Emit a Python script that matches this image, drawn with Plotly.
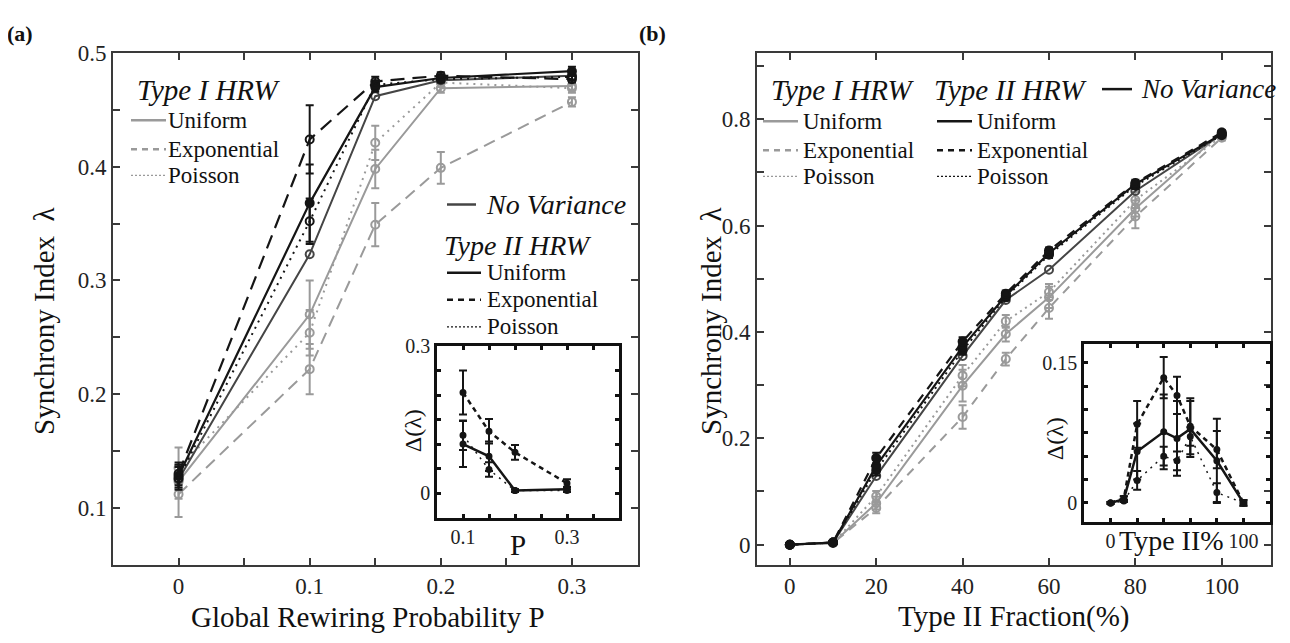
import plotly.graph_objects as go

W, H = 1290, 643
OFF = 8  # page body margin of the rendered html
SERIF = "Liberation Serif"

# ---------------- data: panel (a) ----------------
P = [0, 0.1, 0.15, 0.2, 0.3]
a_t1_uni = [0.123, 0.270, 0.398, 0.469, 0.471]
a_t1_uni_err = [0.015, 0.030, 0.017, 0.004, 0.004]
a_t1_exp = [0.112, 0.222, 0.349, 0.399, 0.457]
a_t1_exp_err = [0.020, 0.022, 0.019, 0.014, 0.004]
a_t1_poi = [0.135, 0.254, 0.421, 0.474, 0.469]
a_t1_poi_err = [0.018, 0.020, 0.015, 0.004, 0.004]
a_t2_uni = [0.128, 0.368, 0.470, 0.478, 0.484]
a_t2_uni_err = [0.010, 0.034, 0.004, 0.003, 0.004]
a_t2_exp = [0.130, 0.424, 0.475, 0.480, 0.477]
a_t2_exp_err = [0.010, 0.030, 0.004, 0.003, 0.003]
a_t2_poi = [0.126, 0.352, 0.472, 0.477, 0.479]
a_t2_poi_err = [0.010, 0.020, 0.004, 0.003, 0.003]
a_nv = [0.125, 0.323, 0.462, 0.476, 0.480]

# inset (a): difference Delta(lambda)
Pi = [0.1, 0.15, 0.2, 0.3]
ai_uni = [0.100, 0.075, 0.005, 0.008]
ai_uni_err = [0.047, 0.030, 0.003, 0.005]
ai_exp = [0.205, 0.126, 0.083, 0.020]
ai_exp_err = [0.045, 0.025, 0.015, 0.008]
ai_poi = [0.118, 0.048, 0.005, 0.005]
ai_poi_err = [0.030, 0.015, 0.003, 0.003]

# ---------------- data: panel (b) ----------------
F = [0, 10, 20, 40, 50, 60, 80, 100]
b_t1_uni = [0, 0.003, 0.078, 0.299, 0.396, 0.465, 0.632, 0.775]
b_t1_uni_err = [0.002, 0.003, 0.012, 0.030, 0.014, 0.020, 0.015, 0.005]
b_t1_exp = [0, 0.003, 0.069, 0.240, 0.349, 0.445, 0.617, 0.765]
b_t1_exp_err = [0.002, 0.003, 0.010, 0.022, 0.012, 0.020, 0.022, 0.005]
b_t1_poi = [0, 0.003, 0.091, 0.318, 0.420, 0.475, 0.648, 0.768]
b_t1_poi_err = [0.002, 0.003, 0.010, 0.020, 0.012, 0.015, 0.015, 0.005]
b_t2_uni = [0, 0.004, 0.148, 0.372, 0.468, 0.548, 0.678, 0.772]
b_t2_uni_err = [0.002, 0.003, 0.012, 0.010, 0.006, 0.008, 0.006, 0.004]
b_t2_exp = [0, 0.004, 0.163, 0.382, 0.472, 0.553, 0.680, 0.775]
b_t2_exp_err = [0.002, 0.003, 0.010, 0.008, 0.006, 0.006, 0.006, 0.004]
b_t2_poi = [0, 0.004, 0.140, 0.365, 0.465, 0.545, 0.675, 0.770]
b_t2_poi_err = [0.002, 0.003, 0.010, 0.008, 0.006, 0.006, 0.006, 0.004]
b_nv = [0, 0.004, 0.129, 0.355, 0.460, 0.517, 0.665, 0.772]

# inset (b)
bi_uni = [0, 0.004, 0.055, 0.076, 0.069, 0.079, 0.045, 0]
bi_uni_err = [0.001, 0.003, 0.030, 0.040, 0.040, 0.030, 0.045, 0.003]
bi_exp = [0, 0.005, 0.084, 0.134, 0.115, 0.082, 0.057, 0]
bi_exp_err = [0.001, 0.002, 0.025, 0.022, 0.020, 0.030, 0.020, 0.003]
bi_poi = [0, 0.002, 0.024, 0.050, 0.045, 0.071, 0.011, 0]
bi_poi_err = [0.001, 0.001, 0.010, 0.010, 0.010, 0.010, 0.010, 0.001]

# tick definitions
a_xticks = [0, 0.05, 0.1, 0.15, 0.2, 0.25, 0.3]
a_xlabels = ["0", "", "0.1", "", "0.2", "", "0.3"]
a_yticks = [0.1, 0.15, 0.2, 0.25, 0.3, 0.35, 0.4, 0.45, 0.5]
a_ylabels = ["0.1", "", "0.2", "", "0.3", "", "0.4", "", "0.5"]
b_xticks = [0, 20, 40, 60, 80, 100]
b_xlabels = ["0", "20", "40", "60", "80", "100"]
b_yticks = [0, 0.1, 0.2, 0.3, 0.4, 0.5, 0.6, 0.7, 0.8, 0.9]
b_ylabels = ["0", "", "0.2", "", "0.4", "", "0.6", "", "0.8", ""]
ai_xticks = [0.1, 0.15, 0.2, 0.25, 0.3, 0.35]
ai_xlabels = ["0.1", "", "", "", "0.3", ""]
ai_yticks = [0, 0.05, 0.1, 0.15, 0.2, 0.25, 0.3]
ai_ylabels = ["0", "", "", "", "", "", "0.3"]
bi_xticks = [0, 20, 40, 60, 80, 100]
bi_xlabels = ["0", "", "", "", "", "100"]
bi_yticks = [0, 0.025, 0.05, 0.075, 0.1, 0.125, 0.15]
bi_ylabels = ["0", "", "", "", "", "", "0.15"]

GRAY = "#9a9a9a"
BLACK = "#151515"
DGRAY = "#454545"
AX = "#3a3a3a"

fig = go.Figure()


def series(x, y, err, color, dash, width, xa, ya, marker=True, msize=8, symbol="circle-open"):
    kw = dict(x=x, y=y, mode="lines+markers" if marker else "lines",
              line=dict(color=color, dash=dash, width=width),
              xaxis=xa, yaxis=ya, showlegend=False, hoverinfo="skip")
    if marker:
        kw["marker"] = dict(symbol=symbol, size=msize, color=color, line=dict(color=color, width=2))
    if err is not None:
        kw["error_y"] = dict(type="data", array=err, visible=True, color=color, thickness=2, width=4)
    fig.add_trace(go.Scatter(**kw))


# panel (a) main
series(P, a_t1_exp, a_t1_exp_err, GRAY, "12px,7px", 2, "x", "y")
series(P, a_t1_poi, a_t1_poi_err, GRAY, "2px,5px", 2, "x", "y")
series(P, a_t1_uni, a_t1_uni_err, GRAY, "solid", 2, "x", "y")
series(P, a_nv, None, DGRAY, "solid", 2, "x", "y")
series(P, a_t2_poi, a_t2_poi_err, BLACK, "2px,5px", 2, "x", "y")
series(P, a_t2_uni, a_t2_uni_err, BLACK, "solid", 2.2, "x", "y", symbol="circle")
series(P, a_t2_exp, a_t2_exp_err, BLACK, "14px,8px", 2.2, "x", "y")

# panel (a) inset
series(Pi, ai_poi, ai_poi_err, BLACK, "2px,5px", 1.5, "x3", "y3", msize=5, symbol="circle")
series(Pi, ai_exp, ai_exp_err, BLACK, "5px,4px", 2.5, "x3", "y3", msize=5, symbol="circle")
series(Pi, ai_uni, ai_uni_err, BLACK, "solid", 2.5, "x3", "y3", msize=5, symbol="circle")

# panel (b) main
series(F, b_t1_exp, b_t1_exp_err, GRAY, "9px,7px", 2, "x2", "y2")
series(F, b_t1_poi, b_t1_poi_err, GRAY, "2px,4px", 2, "x2", "y2")
series(F, b_t1_uni, b_t1_uni_err, GRAY, "solid", 2, "x2", "y2")
series(F, b_nv, None, DGRAY, "solid", 2, "x2", "y2")
series(F, b_t2_poi, b_t2_poi_err, BLACK, "2px,4px", 2, "x2", "y2", symbol="circle")
series(F, b_t2_uni, b_t2_uni_err, BLACK, "solid", 2.2, "x2", "y2", symbol="circle")
series(F, b_t2_exp, b_t2_exp_err, BLACK, "9px,7px", 2.2, "x2", "y2", symbol="circle")

# panel (b) inset
series(F, bi_poi, bi_poi_err, BLACK, "2px,5px", 1.5, "x4", "y4", msize=5, symbol="circle")
series(F, bi_exp, bi_exp_err, BLACK, "5px,4px", 2.5, "x4", "y4", msize=5, symbol="circle")
series(F, bi_uni, bi_uni_err, BLACK, "solid", 2.5, "x4", "y4", msize=5, symbol="circle")


def px_x(px):
    return (px - OFF) / W


def px_y(py):
    yc = (py - 14.3) / 0.978  # empirical vertical correction
    return min(1.0, 1 - (yc - OFF) / H)


def axis(rng, tv, tt, d0, d1, anchor, vertical, size=23, lw=2, color=AX, tl=7):
    dom = [px_y(d1), px_y(d0)] if vertical else [px_x(d0), px_x(d1)]
    return dict(range=rng, domain=dom, anchor=anchor, tickmode="array", tickvals=tv, ticktext=tt,
                ticks="inside", ticklen=tl, tickwidth=lw, tickcolor=color, showline=True,
                linecolor=color, linewidth=lw, mirror="ticks", showgrid=False, zeroline=False,
                tickfont=dict(family=SERIF, size=size, color="#222222"))


layout = dict(
    width=W, height=H, margin=dict(l=0, r=0, t=0, b=0), autosize=False,
    paper_bgcolor="white", plot_bgcolor="rgba(0,0,0,0)", showlegend=False,
    xaxis=axis([-0.05, 0.35], a_xticks, a_xlabels, 113, 637.5, "y", False),
    yaxis=axis([0.05, 0.5], a_yticks, a_ylabels, 55, 565, "x", True),
    xaxis2=axis([-7.6, 111.4], b_xticks, b_xlabels, 757, 1271, "y2", False),
    yaxis2=axis([-0.0377, 0.9245], b_yticks, b_ylabels, 55, 565, "x2", True),
    xaxis3=axis([0.05, 0.4], ai_xticks, ai_xlabels, 437, 619, "y3", False, size=20, lw=2.5, color="#111111", tl=4),
    yaxis3=axis([-0.05, 0.3], ai_yticks, ai_ylabels, 347, 518, "x3", True, size=20, lw=2.5, color="#111111", tl=4),
    xaxis4=axis([-20, 120], bi_xticks, bi_xlabels, 1084, 1270, "y4", False, size=20, lw=2.5, color="#111111", tl=4),
    yaxis4=axis([-0.02, 0.17], bi_yticks, bi_ylabels, 345, 522, "x4", True, size=20, lw=2.5, color="#111111", tl=4),
)
fig.update_layout(**layout)

annotations = []
shapes = []


def text(px, py, s, size=23, italic=False, bold=False, xanchor="left", angle=0, yanchor="middle"):
    if italic:
        s = "<i>" + s + "</i>"
    if bold:
        s = "<b>" + s + "</b>"
    annotations.append(dict(x=px_x(px), y=px_y(py), xref="paper", yref="paper", text=s,
                            showarrow=False, xanchor=xanchor, yanchor=yanchor, textangle=angle,
                            borderpad=0, font=dict(family=SERIF, size=size, color="#111111")))


def sample(x0, x1, py, color, dash, width=2.5):
    shapes.append(dict(type="line", xref="paper", yref="paper", x0=px_x(x0), x1=px_x(x1),
                       y0=px_y(py), y1=px_y(py), line=dict(color=color, dash=dash, width=width)))


legend_names = ["Uniform", "Exponential", "Poisson"]
legend_dash = ["solid", "6px,5px", "2px,2px"]

# panel (a) legends
text(136, 92, "Type I HRW", size=29, italic=True)
for n, d, yy in zip(legend_names, legend_dash, [122, 151, 177]):
    sample(131, 166, yy, GRAY, d, 2.5 if d != "2px,2px" else 1.2)
    text(167, yy, n)
sample(447, 476, 206, DGRAY, "solid", 2.5)
text(485, 206, "No Variance", size=28, italic=True)
text(443, 247, "Type II HRW", size=28, italic=True)
for n, d, yy in zip(legend_names, legend_dash, [274, 301, 328]):
    sample(447, 481, yy, BLACK, d, 2.5 if d != "2px,2px" else 1.2)
    text(486, yy, n)

# panel (b) legends
text(770, 92, "Type I HRW", size=29, italic=True)
for n, d, yy in zip(legend_names, legend_dash, [123, 152, 178]):
    sample(763, 798, yy, GRAY, d, 2.5 if d != "2px,2px" else 1.2)
    text(802, yy, n)
text(933, 92, "Type II HRW", size=29, italic=True)
for n, d, yy in zip(legend_names, legend_dash, [123, 152, 178]):
    sample(937, 972, yy, BLACK, d, 2.5 if d != "2px,2px" else 1.2)
    text(976, yy, n)
sample(1102, 1132, 91, BLACK, "solid", 2.5)
text(1140, 91, "No Variance", size=27, italic=True)

# axis titles
text(368, 617, "Global Rewiring Probability P", size=29, xanchor="center")
text(1014, 617, "Type II Fraction(%)", size=29, xanchor="center")
text(44, 322, "Synchrony Index  λ", size=29, xanchor="center", angle=-90)
text(711, 322, "Synchrony Index  λ", size=29, xanchor="center", angle=-90)

# inset titles
text(518, 545, "P", size=29, xanchor="center")
text(413, 432, "Δ(λ)", size=24, xanchor="center", angle=-90)
text(1171, 541, "Type II%", size=28, xanchor="center")
text(1055, 440, "Δ(λ)", size=24, xanchor="center", angle=-90)

# panel labels
text(6, 0, "(a)", size=22, bold=True, yanchor="top")
text(638, 0, "(b)", size=22, bold=True, yanchor="top")

fig.update_layout(annotations=annotations, shapes=shapes)
fig.write_html("out.html")
